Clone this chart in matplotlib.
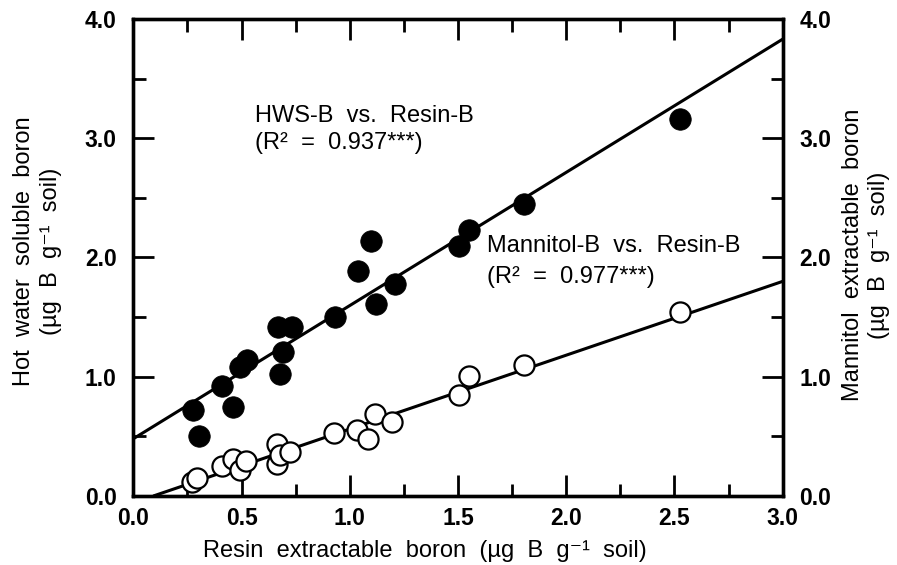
import matplotlib
matplotlib.use("Agg")
import matplotlib.pyplot as plt
import numpy as np
from matplotlib.ticker import MultipleLocator

plt.rcParams['font.family'] = ['Liberation Sans', 'DejaVu Sans']

# Resin-B (x) vs HWS-B (filled)
resin_hws = [0.277, 0.305, 0.408, 0.462, 0.493, 0.524, 0.670, 0.732, 0.690, 0.678,
             0.932, 1.119, 1.097, 1.037, 1.209, 1.552, 1.506, 1.807, 2.525]
hws_b = [0.72, 0.50, 0.92, 0.75, 1.08, 1.14, 1.42, 1.42, 1.21, 1.02,
         1.50, 1.61, 2.14, 1.89, 1.775, 2.23, 2.10, 2.45, 3.16]

# Resin-B (x) vs Mannitol-B (open)
resin_man = [0.270, 0.293, 0.408, 0.462, 0.493, 0.520, 0.662, 0.662, 0.678, 0.724,
             0.928, 1.032, 1.085, 1.116, 1.194, 1.552, 1.506, 1.805, 2.525]
mannitol_b = [0.12, 0.15, 0.25, 0.31, 0.22, 0.29, 0.44, 0.27, 0.34, 0.37,
              0.53, 0.55, 0.48, 0.69, 0.62, 1.01, 0.85, 1.10, 1.54]

# regression lines: (intercept, slope, x start, x end)
hws_fit = (0.48, 1.117, 0.0, 3.0)
man_fit = (-0.057, 0.619, 0.092, 3.0)

x_ticks = [0.0, 0.5, 1.0, 1.5, 2.0, 2.5, 3.0]
y_ticks = [0.0, 1.0, 2.0, 3.0, 4.0]

fig = plt.figure(figsize=(8.97, 5.65), dpi=100)
ax = fig.add_axes([0.1486, 0.1221, 0.7240, 0.8443])

for (b0, b1, xs, xe) in [hws_fit, man_fit]:
    xx = np.array([xs, xe])
    ax.plot(xx, b0 + b1 * xx, color='black', lw=2.2, zorder=2, solid_capstyle='butt')

ax.plot(resin_hws, hws_b, 'o', ms=15.5, mfc='black', mec='black', mew=0.5, zorder=3)
ax.plot(resin_man, mannitol_b, 'o', ms=14.5, mfc='white', mec='black', mew=1.6, zorder=3)

ax.set_xlim(0, 3.0)
ax.set_ylim(0, 4.0)
ax.set_xticks(x_ticks)
ax.set_xticklabels([f"{v:.1f}" for v in x_ticks])
ax.set_yticks(y_ticks)
ax.set_yticklabels([f"{v:.1f}" for v in y_ticks])
ax.xaxis.set_minor_locator(MultipleLocator(0.25))
ax.yaxis.set_minor_locator(MultipleLocator(0.5))

for s in ax.spines.values():
    s.set_linewidth(2.4)

TL = 16.5
ax.tick_params(which='major', direction='in', length=15, width=2.0,
               top=True, right=False, labelsize=TL, pad=8)
ax.tick_params(which='minor', direction='in', length=9, width=2.0, top=True, right=False)
ax.tick_params(axis='y', which='major', pad=12)
for lab in ax.get_xticklabels() + ax.get_yticklabels():
    lab.set_fontweight('bold')

ax2 = ax.twinx()
ax2.set_ylim(0, 4.0)
ax2.set_yticks(y_ticks)
ax2.set_yticklabels([f"{v:.1f}" for v in y_ticks])
ax2.yaxis.set_minor_locator(MultipleLocator(0.5))
ax2.tick_params(which='major', direction='in', length=15, width=2.0, labelsize=TL, pad=12)
ax2.tick_params(which='minor', direction='in', length=9, width=2.0)
for lab in ax2.get_yticklabels():
    lab.set_fontweight('bold')
for s in ax2.spines.values():
    s.set_linewidth(2.4)

AF = 17
ax.text(0.562, 3.19, "HWS-B  vs.  Resin-B", fontsize=AF, va='center', ha='left')
ax.text(0.562, 2.96, "(R²  =  0.937***)", fontsize=AF, va='center', ha='left')
ax.text(1.633, 2.096, "Mannitol-B  vs.  Resin-B", fontsize=AF, va='center', ha='left')
ax.text(1.633, 1.836, "(R²  =  0.977***)", fontsize=AF, va='center', ha='left')

LF = 17
unit = "(µg  B  g⁻¹  soil)"
fig.text(24/897, 1 - 251/565, "Hot  water  soluble  boron", rotation=90,
         fontsize=LF, ha='center', va='center')
fig.text(51/897, 1 - 251/565, unit, rotation=90, fontsize=LF, ha='center', va='center')
fig.text(853/897, 1 - 255/565, "Mannitol  extractable  boron", rotation=90,
         fontsize=LF, ha='center', va='center')
fig.text(879/897, 1 - 255/565, unit, rotation=90, fontsize=LF, ha='center', va='center')
fig.text(425/897, 1 - 551/565, "Resin  extractable  boron  " + unit,
         fontsize=LF, ha='center', va='center')

fig.savefig("out.png", dpi=100)
